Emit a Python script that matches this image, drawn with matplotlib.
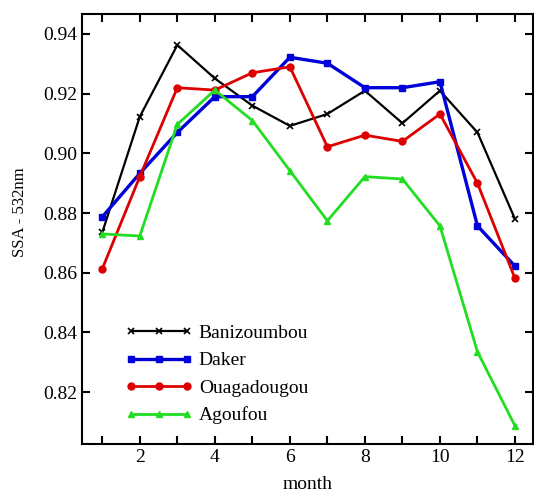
import numpy as np
import matplotlib
matplotlib.use("Agg")
from matplotlib import pyplot as plt
from matplotlib.ticker import MultipleLocator

months = np.arange(1, 13)

# single scattering albedo at 532 nm, monthly means per station
banizoumbou = [0.8735, 0.9123, 0.9363, 0.9251, 0.9160, 0.9092,
               0.9132, 0.9210, 0.9101, 0.9210, 0.9070, 0.8780]
daker = [0.8787, 0.8933, 0.9070, 0.9190, 0.9190, 0.9322,
         0.9302, 0.9220, 0.9220, 0.9240, 0.8757, 0.8622]
ouagadougou = [0.8613, 0.8922, 0.9220, 0.9212, 0.9270, 0.9290,
               0.9022, 0.9061, 0.9040, 0.9132, 0.8900, 0.8581]
agoufou = [0.8730, 0.8723, 0.9097, 0.9212, 0.9110, 0.8942,
           0.8774, 0.8922, 0.8914, 0.8757, 0.8335, 0.8087]

y_ticks = [0.82, 0.84, 0.86, 0.88, 0.90, 0.92, 0.94]
x_ticks = [2, 4, 6, 8, 10, 12]

plt.rcParams['font.family'] = ['Liberation Serif', 'DejaVu Serif']

fig = plt.figure(figsize=(5.34, 4.93), dpi=100)
ax = fig.add_axes([0.1536, 0.0994, 0.8445, 0.8722])

ax.plot(months, banizoumbou, color='black', lw=1.6, marker='x', ms=5, mew=1.2,
        label='Banizoumbou')
ax.plot(months, daker, color='#0000d8', lw=2.4, marker='s', ms=5,
        label='Daker')
ax.plot(months, ouagadougou, color='#dd0000', lw=2.0, marker='o', ms=5,
        label='Ouagadougou')
ax.plot(months, agoufou, color='#22dd22', lw=2.0, marker='^', ms=4,
        label='Agoufou')

ax.set_xlim(0.46, 12.48)
ax.set_ylim(0.8026, 0.9467)
ax.set_xticks(x_ticks)
ax.xaxis.set_minor_locator(MultipleLocator(1))
ax.set_yticks(y_ticks)
ax.set_yticklabels(['%.2f' % v for v in y_ticks])

ax.tick_params(which='both', direction='in', top=True, right=True,
               length=6, width=1.5, labelsize=14)
for s in ax.spines.values():
    s.set_linewidth(1.5)

ax.set_xlabel('month', fontsize=14, labelpad=7)
ax.set_ylabel('SSA - 532nm', fontsize=12)
ax.yaxis.set_label_coords(-0.12, 0.54)

ax.legend(loc='upper left', bbox_to_anchor=(0.095, 0.278), frameon=False,
          numpoints=3, handlelength=3.5, handletextpad=0.3,
          labelspacing=0.5, borderpad=0, borderaxespad=0, fontsize=14)

fig.savefig('out.png', dpi=100)
